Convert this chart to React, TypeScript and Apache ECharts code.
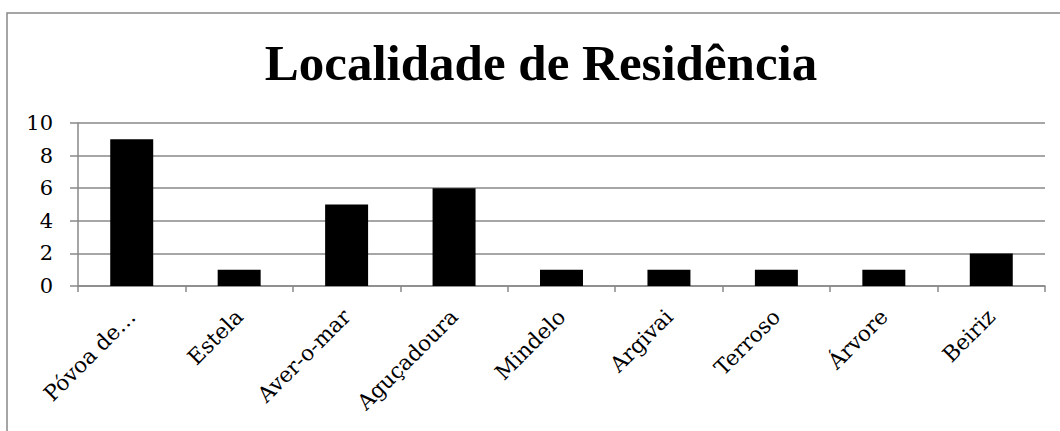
import React, { useEffect, useRef } from "react";
import * as echarts from "echarts";

const categories = ["Póvoa de…", "Estela", "Aver-o-mar", "Aguçadoura", "Mindelo", "Argivai", "Terroso", "Árvore", "Beiriz"];
const values = [9, 1, 5, 6, 1, 1, 1, 1, 2];
const titleText = "Localidade de Residência";

export default function App() {
  const ref = useRef<HTMLDivElement>(null);
  useEffect(() => {
    document.body.style.margin = "0";
    const chart = echarts.init(ref.current!, null, { renderer: "svg" });
    const font = "DejaVu Serif";
    chart.setOption({
      animation: false,
      backgroundColor: "#ffffff",
      title: {
        text: titleText,
        left: 536,
        textAlign: "center",
        top: 32,
        textStyle: { fontFamily: "Liberation Serif", fontWeight: "bold", fontSize: 51, color: "#000" },
      },
      graphic: [
        {
          type: "rect",
          shape: { x: 7, y: 13, width: 1100, height: 500 },
          style: { fill: "none", stroke: "#888", lineWidth: 1.5 },
          silent: true,
        },
      ],
      grid: { left: 78, right: 15, top: 123, bottom: 145, containLabel: false },
      xAxis: {
        type: "category",
        data: categories,
        axisLine: { show: true, lineStyle: { color: "#888", width: 1.5 } },
        axisTick: { show: true, length: 6, alignWithLabel: false, lineStyle: { color: "#888", width: 1.5 } },
        axisLabel: { rotate: 45, interval: 0, fontFamily: font, fontSize: 21.5, color: "#000", margin: 27 },
      },
      yAxis: {
        type: "value",
        min: 0,
        max: 10,
        interval: 2,
        axisLine: { show: true, lineStyle: { color: "#888", width: 1.5 } },
        axisTick: { show: true, length: 8, lineStyle: { color: "#888", width: 1.5 } },
        axisLabel: { fontFamily: font, fontSize: 21, color: "#000", margin: 25 },
        splitLine: { show: true, lineStyle: { color: "#888", width: 1.5 } },
      },
      series: [
        {
          type: "bar",
          data: values,
          barWidth: "40%",
          itemStyle: { color: "#000" },
        },
      ],
    });
    return () => chart.dispose();
  }, []);
  return <div ref={ref} style={{ width: 1060, height: 431 }} />;
}
